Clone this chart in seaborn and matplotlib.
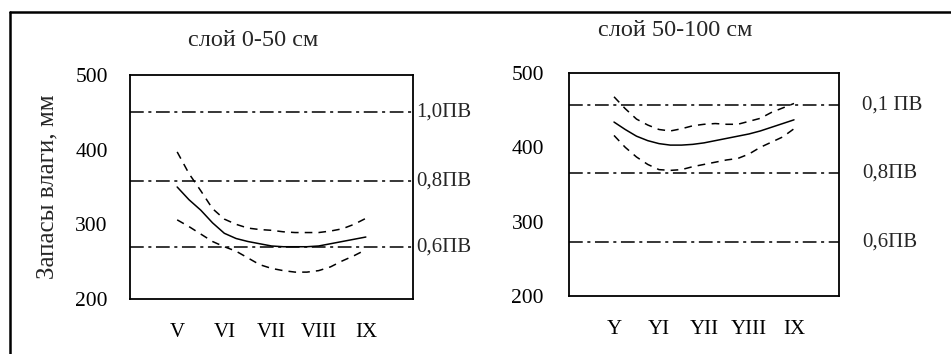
import matplotlib
matplotlib.use("Agg")
import matplotlib.pyplot as plt
from matplotlib.lines import Line2D
import seaborn as sns
import pandas as pd

# ---- data ----
x_pos = [1, 1.25, 1.5, 1.75, 2, 2.25, 2.5, 2.75, 3, 3.25, 3.5, 3.75, 4, 4.25, 4.5, 4.75, 5]
month_pos = [0, 1, 2, 3, 4, 5, 6]
months_left = ["", "V", "VI", "VII", "VIII", "IX", ""]
months_right = ["", "Y", "YI", "YII", "YIII", "IX", ""]
y_ticks = [200, 300, 400, 500]

left_mean = [350, 333, 319, 302, 288, 281, 277, 274, 271, 270, 270, 270, 271, 274, 277, 280, 283]
left_upper = [397, 368, 345, 321, 307, 300, 295, 293, 292, 290, 289, 289, 289, 291, 294, 300, 308]
left_lower = [306, 297, 287, 277, 270, 264, 255, 246, 241, 238, 236, 236, 238, 243, 251, 258, 266]
left_levels = [450, 358, 270]
left_level_labels = ["1,0ПВ", "0,8ПВ", "0,6ПВ"]

right_mean = [434, 424, 415, 409, 405, 403, 403, 404, 406, 409, 412, 415, 418, 422, 427, 432, 437]
right_upper = [468, 452, 438, 430, 424, 422, 425, 429, 431, 432, 431, 431, 435, 439, 447, 453, 459]
right_lower = [416, 400, 387, 377, 370, 369, 370, 374, 377, 380, 383, 385, 391, 400, 407, 414, 425]
right_levels = [457, 365, 273]
right_level_labels = ["0,1 ПВ", "0,8ПВ", "0,6ПВ"]

title_left = "слой 0-50 см"
title_right = "слой 50-100 см"
ylabel = "Запасы влаги, мм"

sns.set_style("white")
plt.rcParams["font.family"] = ["Liberation Serif", "DejaVu Serif"]

fig = plt.figure(figsize=(9.51, 3.54), dpi=100)
W, H = 951, 354

def px_axes(l, t, r, b):
    return fig.add_axes([l / W, 1 - b / H, (r - l) / W, (b - t) / H])

axL = px_axes(130, 75, 413, 299)
axR = px_axes(569, 73, 839, 296)

def draw(ax, mean, upper, lower, levels, labels, months, label_x, ytick_len):
    df = pd.DataFrame({"x": x_pos, "mean": mean, "upper": upper, "lower": lower})
    sns.lineplot(data=df, x="x", y="mean", ax=ax, color="black", lw=1.1)
    for col in ["upper", "lower"]:
        sns.lineplot(data=df, x="x", y=col, ax=ax, color="black", lw=1.1,
                     linestyle=(0, (5, 4)))
    for lv, lab in zip(levels, labels):
        ax.axhline(lv, color="black", lw=1.1, linestyle=(0, (9, 3, 2, 3)))
        ax.text(label_x, lv, lab, transform=ax.get_yaxis_transform(),
                ha="left", va="center", fontsize=15, clip_on=False)
    ax.set_xlim(0, 6)
    ax.set_ylim(200, 500)
    ax.set_xticks(month_pos)
    ax.set_xticklabels(months, fontsize=15)
    ax.set_yticks(y_ticks)
    ax.set_yticklabels([str(v) for v in y_ticks], fontsize=15.5)
    ax.set_xlabel("")
    ax.set_ylabel("")
    ax.tick_params(axis="x", direction="out", length=6, width=1.2, pad=11, colors="black")
    ax.tick_params(axis="y", direction="out", length=ytick_len, width=1.2, pad=10, colors="black")
    for s in ax.spines.values():
        s.set_visible(True)
        s.set_color("black")
        s.set_linewidth(1.3)
    ax.set_facecolor("white")

draw(axL, left_mean, left_upper, left_lower, left_levels, left_level_labels,
     months_left, 1.012, 6)
draw(axR, right_mean, right_upper, right_lower, right_levels, right_level_labels,
     months_right, 1.085, 8)

fig.text(253 / W, 1 - 40 / H, title_left, ha="center", va="center", fontsize=17.5)
fig.text(675 / W, 1 - 31 / H, title_right, ha="center", va="center", fontsize=17.5)
fig.text(47 / W, 1 - 187 / H, ylabel, ha="center", va="center", rotation=90, fontsize=18)

# outer frame (left and top edges)
fig.add_artist(Line2D([10 / W, 10 / W], [0, 1 - 12 / H], transform=fig.transFigure,
                      color="black", lw=1.8))
fig.add_artist(Line2D([10 / W, 1], [1 - 12 / H, 1 - 12 / H], transform=fig.transFigure,
                      color="black", lw=1.8))

fig.savefig("out.png", dpi=100, facecolor="white")
